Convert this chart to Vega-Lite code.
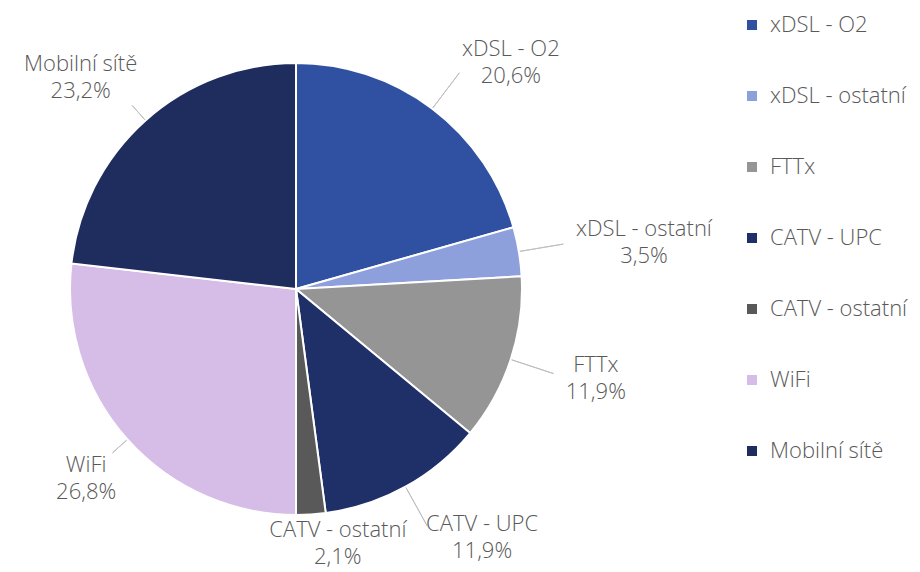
{
  "$schema": "https://vega.github.io/schema/vega-lite/v6.json",
  "width": 592,
  "height": 566,
  "padding": {"left": 0, "top": 6, "right": 328, "bottom": 0},
  "autosize": {"type": "none"},
  "background": "white",
  "config": {"view": {"stroke": null}, "font": "Open Sans"},
  "data": {
    "values": [
      {"order": 1, "cat": "xDSL - O2", "value": 20.6},
      {"order": 2, "cat": "xDSL - ostatní", "value": 3.5},
      {"order": 3, "cat": "FTTx", "value": 11.9},
      {"order": 4, "cat": "CATV - UPC", "value": 11.9},
      {"order": 5, "cat": "CATV - ostatní", "value": 2.1},
      {"order": 6, "cat": "WiFi", "value": 26.8},
      {"order": 7, "cat": "Mobilní sítě", "value": 23.2}
    ]
  },
  "transform": [
    {"window": [{"op": "sum", "field": "value", "as": "cum"}], "sort": [{"field": "order"}], "frame": [null, 0]},
    {"calculate": "datum.cum - datum.value", "as": "start"},
    {"calculate": "datum.cum - datum.value / 2", "as": "mid"},
    {"calculate": "sin(datum.mid / 100 * 2 * PI)", "as": "s"},
    {"calculate": "abs(datum.s) < 0.3 ? 227 : (datum.s < 0 ? 246 : 271)", "as": "lo"},
    {"calculate": "max(4.85 * length(datum.cat), 30)", "as": "hw"},
    {"calculate": "datum.cat + '\\n' + replace(format(datum.value, '.1f'), '.', ',') + '%'", "as": "lab"}
  ],
  "layer": [
    {
      "mark": {"type": "arc", "radius": 226, "stroke": "white", "strokeWidth": 2},
      "encoding": {
        "theta": {"field": "start", "type": "quantitative", "scale": {"domain": [0, 100]}},
        "theta2": {"field": "cum"},
        "color": {
          "field": "cat",
          "type": "nominal",
          "scale": {
            "domain": ["xDSL - O2", "xDSL - ostatní", "FTTx", "CATV - UPC", "CATV - ostatní", "WiFi", "Mobilní sítě"],
            "range": ["#3050A2", "#8EA0DC", "#959595", "#1F2F68", "#595959", "#D6BDE8", "#1F2D5E"]
          },
          "legend": {
            "title": null,
            "orient": "none",
            "legendX": 741,
            "legendY": 8,
            "symbolType": "square",
            "symbolSize": 100,
            "symbolStrokeWidth": 0,
            "labelFontSize": 22,
            "labelFontWeight": 300,
            "labelColor": "#595959",
            "labelFont": "Open Sans",
            "rowPadding": 49,
            "labelOffset": 7,
            "padding": 0
          }
        }
      }
    },
    {
      "mark": {"type": "arc", "radius2": 227, "filled": false, "stroke": "#BFBFBF", "strokeWidth": 1},
      "encoding": {
        "theta": {"field": "mid", "type": "quantitative"},
        "theta2": {"field": "mid"},
        "radius": {"field": "lo", "type": "quantitative", "scale": null}
      }
    },
    {
      "mark": {
        "type": "text", "fontSize": 22, "fontWeight": 300, "lineBreak": "\n", "lineHeight": 27, "color": "#595959",
        "baseline": "middle", "align": "center", "dy": -13,
        "radius": {"expr": "abs(datum.s) < 0.3 ? 255 : 284"},
        "dx": {"expr": "abs(datum.s) < 0.3 ? 25 : (datum.s > 0 ? datum.hw : 32 - datum.hw)"}
      },
      "encoding": {
        "theta": {"field": "mid", "type": "quantitative"},
        "text": {"field": "lab", "type": "nominal"}
      }
    }
  ]
}
